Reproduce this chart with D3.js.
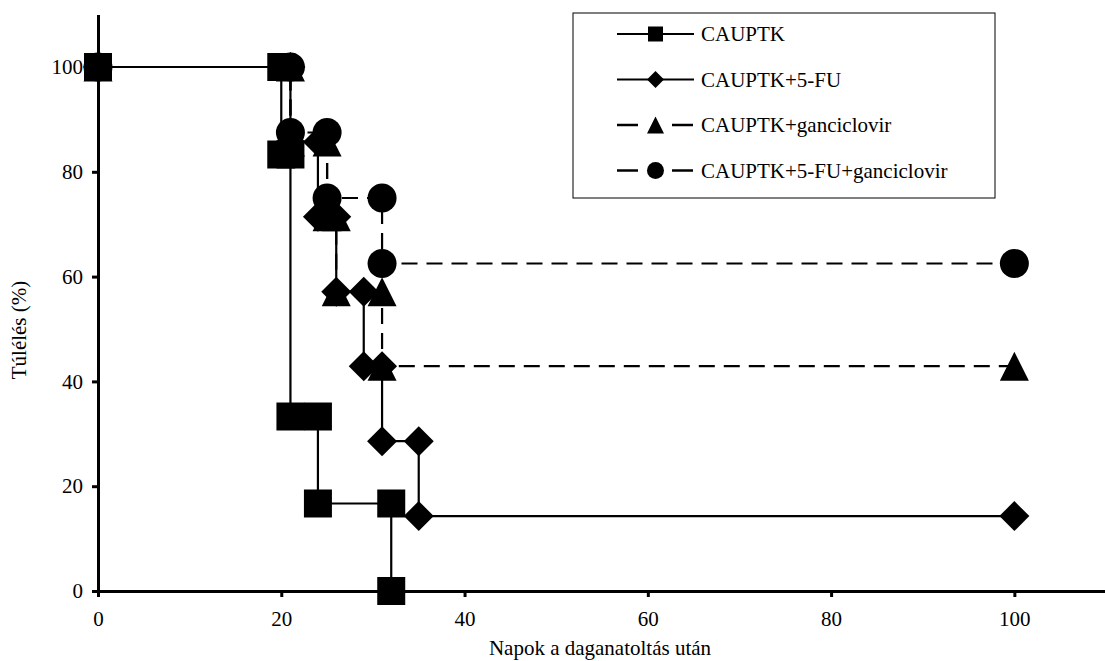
<!DOCTYPE html>
<html>
<head>
<meta charset="utf-8">
<script src="https://cdn.jsdelivr.net/npm/d3@7"></script>
<style>
  html, body { margin: 0; padding: 0; background: #fff; }
  svg text { font-family: "Liberation Serif", "Times New Roman", Times, "DejaVu Serif", serif !important; }
</style>
</head>
<body>
<div id="chart"></div>
<script>
// Kaplan-Meier step data (days after tumour inoculation, survival %)
const seriesNames = ['CAUPTK', 'CAUPTK+5-FU', 'CAUPTK+ganciclovir', 'CAUPTK+5-FU+ganciclovir'];

const cauptkDays = [0, 20, 20, 21, 21, 24, 24, 32, 32];
const cauptkSurv = [100, 100, 83.3, 83.3, 33.3, 33.3, 16.7, 16.7, 0];

const fuDays = [0, 21, 21, 24, 24, 26, 26, 29, 29, 31, 31, 35, 35, 100];
const fuSurv = [100, 100, 85.7, 85.7, 71.4, 71.4, 57.1, 57.1, 42.9, 42.9, 28.6, 28.6, 14.3, 14.3];

const gcvDays = [0, 21, 21, 25, 25, 26, 26, 31, 31, 100];
const gcvSurv = [100, 100, 85.7, 85.7, 71.4, 71.4, 57.1, 57.1, 42.9, 42.9];

const fuGcvDays = [0, 21, 21, 25, 25, 31, 31, 100];
const fuGcvSurv = [100, 100, 87.5, 87.5, 75, 75, 62.5, 62.5];

const xTicks = [0, 20, 40, 60, 80, 100];
const yTicks = [0, 20, 40, 60, 80, 100];

const serif = '"Liberation Serif", "Times New Roman", Times, serif';
const width = 1105, height = 661;
const svg = d3.select('#chart').append('svg')
  .attr('width', width)
  .attr('height', height)
  .attr('font-family', serif);

svg.append('rect').attr('width', width).attr('height', height).attr('fill', '#fff');

const x = d3.scaleLinear().domain([0, 110]).range([98, 1106]);
const y = d3.scaleLinear().domain([0, 110]).range([591, 14.6]);

// marker shapes, s = full width in px
function markerPath(shape, s) {
  const h = s / 2;
  if (shape === 'square') return `M${-h},${-h}H${h}V${h}H${-h}Z`;
  if (shape === 'diamond') return `M0,${-h}L${h},0L0,${h}L${-h},0Z`;
  if (shape === 'triangle') return `M0,${-h}L${h},${h}L${-h},${h}Z`;
  const r = h;
  return `M${-r},0A${r},${r} 0 1,0 ${r},0A${r},${r} 0 1,0 ${-r},0Z`;
}

const series = [
  { name: seriesNames[0], days: cauptkDays, surv: cauptkSurv, shape: 'square', size: 28, dash: null },
  { name: seriesNames[1], days: fuDays, surv: fuSurv, shape: 'diamond', size: 30, dash: null },
  { name: seriesNames[2], days: gcvDays, surv: gcvSurv, shape: 'triangle', size: 29, dash: '16,9' },
  { name: seriesNames[3], days: fuGcvDays, surv: fuGcvSurv, shape: 'circle', size: 29, dash: '16,9' }
];

// Axes
const yAxis = svg.append('g')
  .attr('transform', `translate(${x(0)},0)`)
  .call(d3.axisLeft(y).tickValues(yTicks).tickSize(6).tickPadding(9).tickSizeOuter(0));
const xAxis = svg.append('g')
  .attr('transform', `translate(0,${y(0)})`)
  .call(d3.axisBottom(x).tickValues(xTicks).tickSize(6).tickPadding(14).tickSizeOuter(0));

[yAxis, xAxis].forEach(ax => {
  ax.attr('font-family', serif).attr('font-size', 21);
  ax.select('.domain').attr('stroke', '#000').attr('stroke-width', 3);
  ax.selectAll('.tick line').attr('stroke', '#000').attr('stroke-width', 3);
  ax.selectAll('.tick text').attr('fill', '#000');
});

// Axis titles
svg.append('text')
  .attr('transform', `translate(26,330) rotate(-90)`)
  .attr('text-anchor', 'middle')
  .attr('font-size', '21px')
  .text('Túlélés (%)');

svg.append('text')
  .attr('x', 600)
  .attr('y', 655)
  .attr('text-anchor', 'middle')
  .attr('font-size', '21px')
  .text('Napok a daganatoltás után');

// Series
const line = d3.line().x(d => x(d[0])).y(d => y(d[1]));

series.forEach(s => {
  const pts = s.days.map((d, i) => [d, s.surv[i]]);
  const g = svg.append('g');
  g.append('path')
    .datum(pts)
    .attr('d', line)
    .attr('fill', 'none')
    .attr('stroke', '#000')
    .attr('stroke-width', 2.2)
    .attr('stroke-dasharray', s.dash);
  g.selectAll('path.mk')
    .data(pts)
    .join('path')
    .attr('class', 'mk')
    .attr('transform', d => `translate(${x(d[0])},${y(d[1])})`)
    .attr('d', markerPath(s.shape, s.size))
    .attr('fill', '#000');
});

// Legend
const legend = svg.append('g').attr('transform', 'translate(573,13)');
legend.append('rect')
  .attr('width', 422)
  .attr('height', 185)
  .attr('fill', '#fff')
  .attr('stroke', '#000')
  .attr('stroke-width', 1);

series.forEach((s, i) => {
  const ly = 21 + i * 45.5;
  const row = legend.append('g').attr('transform', `translate(0,${ly})`);
  if (s.dash) {
    row.append('line').attr('x1', 44).attr('x2', 65).attr('y1', 0).attr('y2', 0)
      .attr('stroke', '#000').attr('stroke-width', 2.5);
    row.append('line').attr('x1', 99).attr('x2', 120).attr('y1', 0).attr('y2', 0)
      .attr('stroke', '#000').attr('stroke-width', 2.5);
  } else {
    row.append('line').attr('x1', 44).attr('x2', 121).attr('y1', 0).attr('y2', 0)
      .attr('stroke', '#000').attr('stroke-width', 2);
  }
  row.append('path')
    .attr('transform', 'translate(82.5,0)')
    .attr('d', markerPath(s.shape, s.shape === 'square' ? 15 : 17))
    .attr('fill', '#000');
  row.append('text')
    .attr('x', 128)
    .attr('y', 7)
    .attr('font-size', '21px')
    .text(s.name);
});
</script>
</body>
</html>
